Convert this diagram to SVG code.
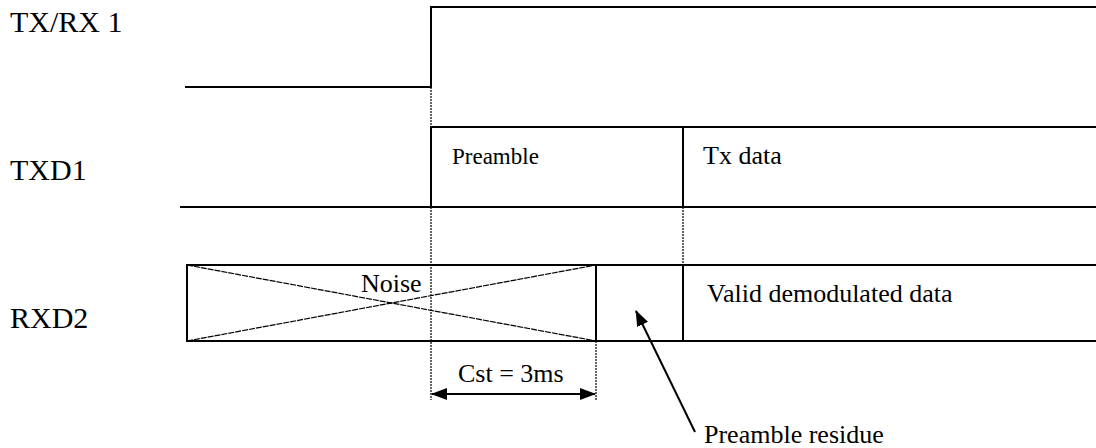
<svg xmlns="http://www.w3.org/2000/svg" width="1096" height="448" viewBox="0 0 1096 448">
<style>
.t{font-family:"Liberation Serif","Times New Roman",serif;fill:#000}
.lbl{font-size:30px}
.m{font-size:26px}
.s{font-size:23px}
.w{fill:none;stroke:#000;stroke-width:2}
.x{fill:none;stroke:#000;stroke-width:1.2;stroke-dasharray:6,1}
.d{fill:none;stroke:#000;stroke-width:1.2;stroke-dasharray:2,1}
.a{fill:none;stroke:#000;stroke-width:2}
</style>
<defs>
<marker id="ah" markerWidth="16" markerHeight="12" refX="15" refY="6" orient="auto-start-reverse" markerUnits="userSpaceOnUse">
<path d="M0,0 L16,6 L0,12 Z" fill="#000"/>
</marker>
</defs>
<rect width="1096" height="448" fill="#fff"/>
<g id="txrx1">
<polyline class="w" points="185,87 431,87 431,7 1096,7"/>
<text class="t lbl" x="10" y="32">TX/RX 1</text>
</g>
<g id="txd1">
<polyline class="w" points="180,207 1096,207"/>
<polyline class="w" points="431,207 431,127 1096,127"/>
<line class="w" x1="683" y1="127" x2="683" y2="207"/>
<text class="t lbl" x="10" y="180">TXD1</text>
<text class="t s" x="452" y="164">Preamble</text>
<text class="t m" x="703" y="164">Tx data</text>
</g>
<g id="rxd2">
<polyline class="w" points="1096,265 187,265 187,341 1096,341"/>
<line class="w" x1="596" y1="265" x2="596" y2="341"/>
<line class="w" x1="683" y1="265" x2="683" y2="341"/>
<line class="x" x1="187" y1="265" x2="596" y2="341"/>
<line class="x" x1="187" y1="341" x2="596" y2="265"/>
<text class="t lbl" x="10" y="328">RXD2</text>
<text class="t m" x="361" y="292">Noise</text>
<text class="t m" x="707" y="302">Valid demodulated data</text>
</g>
<g id="connectors">
<line class="d" x1="431" y1="87" x2="431" y2="127"/>
<line class="d" x1="431" y1="207" x2="431" y2="400"/>
<line class="d" x1="683" y1="207" x2="683" y2="265"/>
<line class="d" x1="596" y1="341" x2="596" y2="400"/>
<line class="a" x1="432" y1="394" x2="595" y2="394" marker-start="url(#ah)" marker-end="url(#ah)"/>
<text class="t m" x="458" y="382">Cst = 3ms</text>
<line class="a" x1="695" y1="432" x2="636" y2="311" marker-end="url(#ah)"/>
<text class="t m" x="704" y="443">Preamble residue</text>
</g>
</svg>
